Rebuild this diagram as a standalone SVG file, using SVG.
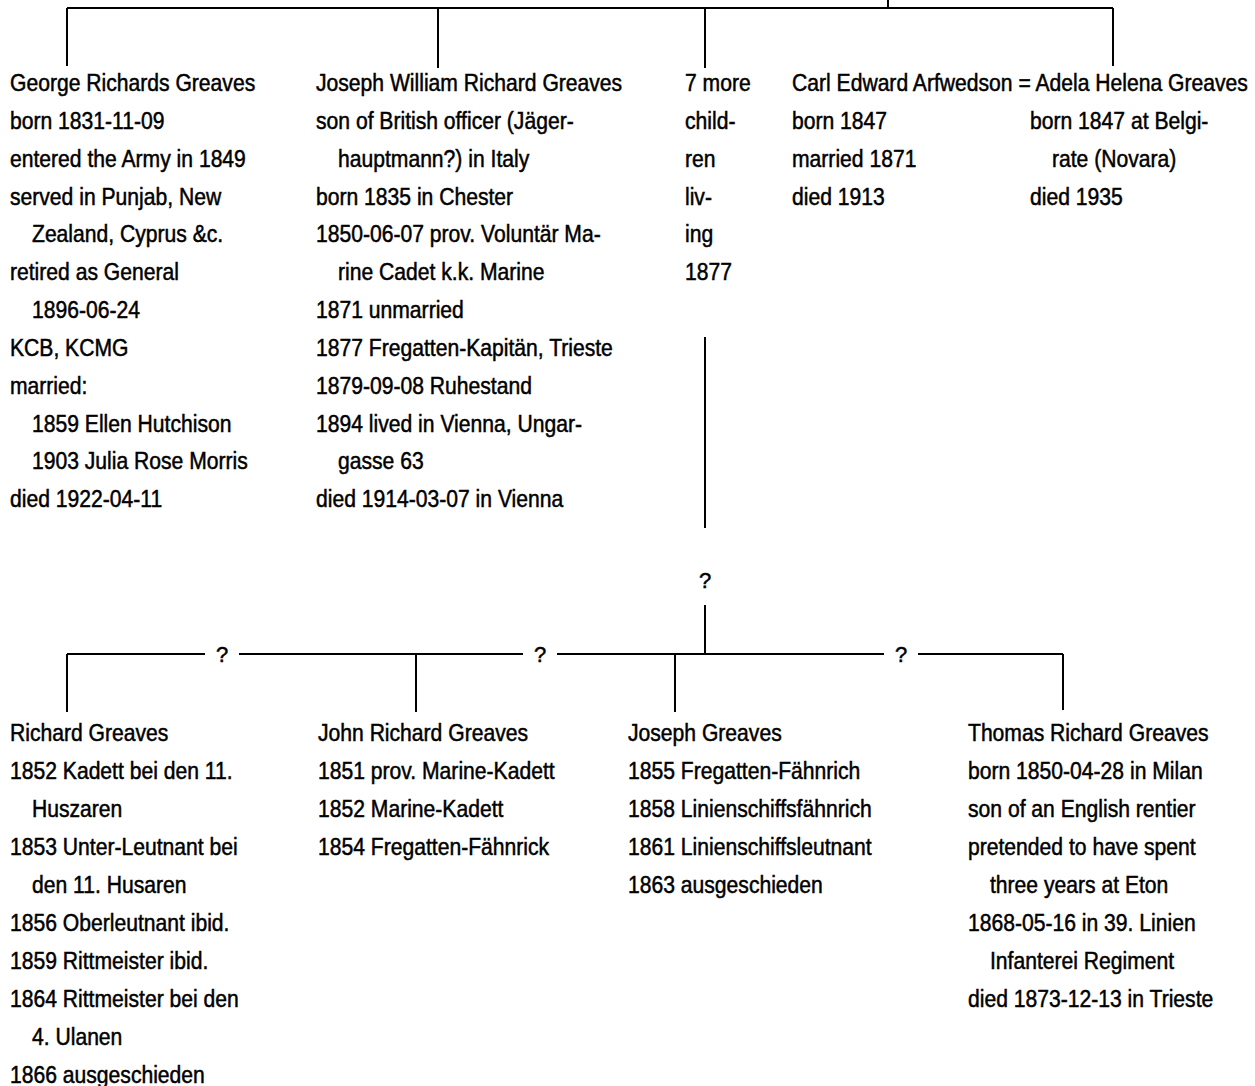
<svg xmlns="http://www.w3.org/2000/svg" width="1255" height="1086" viewBox="0 0 1255 1086">
<style>
  text { font-family: "Liberation Sans", Arial, sans-serif; font-size: 24px; fill: #000; stroke: #000; stroke-width: 0.5; }
  .c { fill: none; stroke: #000; stroke-width: 2; }
  .q { text-anchor: middle; font-size: 22px; }
</style>
<rect width="1255" height="1086" fill="#fff"/>
<g id="connectors">
  <path class="c" d="M888 0 V8 M67 8 H1113 M67 8 V66 M438 8 V68 M705 8 V68 M1113 8 V66"/>
  <path class="c" d="M705 337 V528 M705 605 V654"/>
  <path class="c" d="M67 654 H205 M239 654 H523 M557 654 H884 M918 654 H1063"/>
  <path class="c" d="M67 654 V712 M416 654 V712 M675 654 V712 M1063 654 V710"/>
  <text class="q" x="705" y="588">?</text>
  <text class="q" x="222" y="662">?</text>
  <text class="q" x="540" y="662">?</text>
  <text class="q" x="901" y="662">?</text>
</g>
<g id="george" transform="scale(0.88 1)">
  <text>
    <tspan x="11.36" y="91">George Richards Greaves</tspan>
    <tspan x="11.36" dy="37.85">born 1831-11-09</tspan>
    <tspan x="11.36" dy="37.85">entered the Army in 1849</tspan>
    <tspan x="11.36" dy="37.85">served in Punjab, New</tspan>
    <tspan x="36.36" dy="37.85">Zealand, Cyprus &amp;c.</tspan>
    <tspan x="11.36" dy="37.85">retired as General</tspan>
    <tspan x="36.36" dy="37.85">1896-06-24</tspan>
    <tspan x="11.36" dy="37.85">KCB, KCMG</tspan>
    <tspan x="11.36" dy="37.85">married:</tspan>
    <tspan x="36.36" dy="37.85">1859 Ellen Hutchison</tspan>
    <tspan x="36.36" dy="37.85">1903 Julia Rose Morris</tspan>
    <tspan x="11.36" dy="37.85">died 1922-04-11</tspan>
  </text>
</g>
<g id="joseph-william" transform="scale(0.88 1)">
  <text>
    <tspan x="359.09" y="91">Joseph William Richard Greaves</tspan>
    <tspan x="359.09" dy="37.85">son of British officer (Jäger-</tspan>
    <tspan x="384.09" dy="37.85">hauptmann?) in Italy</tspan>
    <tspan x="359.09" dy="37.85">born 1835 in Chester</tspan>
    <tspan x="359.09" dy="37.85">1850-06-07 prov. Voluntär Ma-</tspan>
    <tspan x="384.09" dy="37.85">rine Cadet k.k. Marine</tspan>
    <tspan x="359.09" dy="37.85">1871 unmarried</tspan>
    <tspan x="359.09" dy="37.85">1877 Fregatten-Kapitän, Trieste</tspan>
    <tspan x="359.09" dy="37.85">1879-09-08 Ruhestand</tspan>
    <tspan x="359.09" dy="37.85">1894 lived in Vienna, Ungar-</tspan>
    <tspan x="384.09" dy="37.85">gasse 63</tspan>
    <tspan x="359.09" dy="37.85">died 1914-03-07 in Vienna</tspan>
  </text>
</g>
<g id="seven-more" transform="scale(0.88 1)">
  <text>
    <tspan x="778.41" y="91">7 more</tspan>
    <tspan x="778.41" dy="37.85">child-</tspan>
    <tspan x="778.41" dy="37.85">ren</tspan>
    <tspan x="778.41" dy="37.85">liv-</tspan>
    <tspan x="778.41" dy="37.85">ing</tspan>
    <tspan x="778.41" dy="37.85">1877</tspan>
  </text>
</g>
<g id="carl-adela" transform="scale(0.88 1)">
  <text>
    <tspan x="900" y="91">Carl Edward Arfwedson = Adela Helena Greaves</tspan>
    <tspan x="900" dy="37.85">born 1847</tspan>
    <tspan x="900" dy="37.85">married 1871</tspan>
    <tspan x="900" dy="37.85">died 1913</tspan>
  </text>
  <text>
    <tspan x="1170.45" y="128.85">born 1847 at Belgi-</tspan>
    <tspan x="1195.45" dy="37.85">rate (Novara)</tspan>
    <tspan x="1170.45" dy="37.85">died 1935</tspan>
  </text>
</g>
<g id="richard" transform="scale(0.88 1)">
  <text>
    <tspan x="11.36" y="741">Richard Greaves</tspan>
    <tspan x="11.36" dy="38">1852 Kadett bei den 11.</tspan>
    <tspan x="36.36" dy="38">Huszaren</tspan>
    <tspan x="11.36" dy="38">1853 Unter-Leutnant bei</tspan>
    <tspan x="36.36" dy="38">den 11. Husaren</tspan>
    <tspan x="11.36" dy="38">1856 Oberleutnant ibid.</tspan>
    <tspan x="11.36" dy="38">1859 Rittmeister ibid.</tspan>
    <tspan x="11.36" dy="38">1864 Rittmeister bei den</tspan>
    <tspan x="36.36" dy="38">4. Ulanen</tspan>
    <tspan x="11.36" dy="38">1866 ausgeschieden</tspan>
  </text>
</g>
<g id="john" transform="scale(0.88 1)">
  <text>
    <tspan x="361.36" y="741">John Richard Greaves</tspan>
    <tspan x="361.36" dy="38">1851 prov. Marine-Kadett</tspan>
    <tspan x="361.36" dy="38">1852 Marine-Kadett</tspan>
    <tspan x="361.36" dy="38">1854 Fregatten-Fähnrick</tspan>
  </text>
</g>
<g id="joseph" transform="scale(0.88 1)">
  <text>
    <tspan x="713.64" y="741">Joseph Greaves</tspan>
    <tspan x="713.64" dy="38">1855 Fregatten-Fähnrich</tspan>
    <tspan x="713.64" dy="38">1858 Linienschiffsfähnrich</tspan>
    <tspan x="713.64" dy="38">1861 Linienschiffsleutnant</tspan>
    <tspan x="713.64" dy="38">1863 ausgeschieden</tspan>
  </text>
</g>
<g id="thomas" transform="scale(0.88 1)">
  <text>
    <tspan x="1100" y="741">Thomas Richard Greaves</tspan>
    <tspan x="1100" dy="38">born 1850-04-28 in Milan</tspan>
    <tspan x="1100" dy="38">son of an English rentier</tspan>
    <tspan x="1100" dy="38">pretended to have spent</tspan>
    <tspan x="1125" dy="38">three years at Eton</tspan>
    <tspan x="1100" dy="38">1868-05-16 in 39. Linien</tspan>
    <tspan x="1125" dy="38">Infanterei Regiment</tspan>
    <tspan x="1100" dy="38">died 1873-12-13 in Trieste</tspan>
  </text>
</g>
</svg>
